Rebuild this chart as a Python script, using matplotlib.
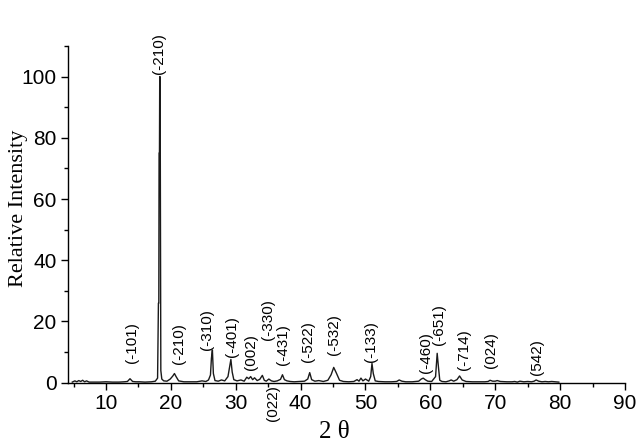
import matplotlib
matplotlib.use("Agg")
import matplotlib.pyplot as plt
from matplotlib.ticker import MultipleLocator

# ---- data ----
two_theta = [4.8, 5.2, 5.5, 5.8, 6.1, 6.4, 6.7, 7.0, 7.4, 8.0, 9.0, 10.0, 11.0, 12.0, 12.8,
             13.3, 13.7, 14.1, 14.6, 15.2, 16.0, 17.0, 17.6, 17.95, 18.08, 18.14, 18.18, 18.24,
             18.28, 18.34, 18.45,
             18.6, 18.9, 19.4, 19.9, 20.3, 20.55, 20.8, 21.2, 22.0, 23.0, 24.0, 24.8, 25.4,
             25.8, 26.1, 26.25, 26.4, 26.55, 26.8, 27.3, 27.8, 28.3, 28.8, 29.05, 29.25, 29.45,
             29.7, 30.2, 30.8, 31.3, 31.7, 32.0, 32.3, 32.6, 32.9, 33.3, 33.7, 34.1, 34.4,
             34.7, 35.1, 35.5, 35.9, 36.4, 36.9, 37.2, 37.5, 37.9, 38.4, 39.0, 39.8, 40.6,
             41.1, 41.4, 41.7, 42.2, 42.8, 43.5, 44.2, 44.7, 45.1, 45.5, 46.0, 46.6, 47.4,
             48.2, 48.7, 49.0, 49.3, 49.6, 50.0, 50.5, 50.8, 51.0, 51.2, 51.5, 52.0, 53.0,
             54.0, 54.8, 55.2, 55.6, 56.2, 57.2, 58.2, 58.6, 58.9, 59.2, 59.6, 60.2, 60.8,
             61.05, 61.25, 61.45, 61.8, 62.4, 62.9, 63.2, 63.6, 64.1, 64.5, 64.9, 65.5, 66.5,
             67.5, 68.4, 68.9, 69.2, 69.6, 70.0, 70.3, 70.8, 71.8, 72.6, 73.0, 73.4, 73.8,
             74.4, 75.0, 75.6, 76.0, 76.3, 76.7, 77.2, 77.7, 78.2, 78.7, 79.2, 79.8]
intensity = [0.2, 0.6, 0.3, 0.7, 0.4, 0.8, 0.3, 0.6, 0.2, 0.2, 0.2, 0.3, 0.2, 0.2, 0.3,
             0.4, 1.3, 0.4, 0.3, 0.3, 0.2, 0.3, 0.5, 1.5, 26.0, 26.0, 75.0, 75.0,
             100.0, 100.0, 4.0,
             1.2, 0.6, 0.5, 1.2, 2.2, 3.0, 2.0, 0.6, 0.3, 0.3, 0.3, 0.6, 0.4,
             0.9, 2.5, 8.0, 10.7, 3.0, 0.7, 0.5, 0.9, 0.6, 2.0, 5.0, 7.6, 3.5,
             1.0, 0.6, 0.9, 0.5, 1.8, 1.3, 2.0, 1.0, 1.6, 0.7, 1.1, 2.4, 0.8,
             0.5, 1.2, 0.6, 0.4, 0.6, 1.1, 2.6, 1.0, 0.6, 0.4, 0.3, 0.4, 0.5,
             1.2, 3.3, 1.0, 0.5, 0.7, 0.4, 0.8, 2.6, 5.0, 3.2, 0.8, 0.4, 0.3,
             0.4, 1.0, 0.5, 1.5, 0.6, 1.2, 0.5, 2.0, 6.3, 3.0, 0.6, 0.4, 0.3,
             0.3, 0.4, 0.9, 0.5, 0.3, 0.3, 0.5, 1.2, 1.5, 1.0, 0.5, 0.4, 2.0,
             9.6, 5.0, 0.8, 0.4, 0.3, 0.6, 0.9, 0.5, 1.0, 2.2, 0.9, 0.4, 0.3,
             0.3, 0.3, 0.4, 0.8, 0.5, 0.5, 0.7, 0.4, 0.3, 0.3, 0.4, 0.2, 0.5,
             0.3, 0.4, 0.3, 0.5, 0.9, 0.5, 0.3, 0.4, 0.3, 0.4, 0.3, 0.2]

labels = ["(-101)", "(-210)", "(-210)", "(-310)", "(-401)", "(002)", "(-330)", "(-431)",
          "(-522)", "(-532)", "(-133)", "(-460)", "(-651)", "(-714)", "(024)", "(542)"]
label_x = [14.0, 18.2, 21.2, 25.6, 29.4, 32.3, 35.0, 37.3,
           41.1, 45.1, 50.8, 59.3, 61.4, 65.2, 69.4, 76.5]
label_y = [6.4, 101.0, 6.1, 10.7, 8.4, 4.1, 13.9, 5.7,
           6.7, 9.0, 6.7, 3.2, 12.3, 4.1, 4.8, 2.5]
below_label = "(022)"
below_x = 35.8

x_ticks = [10, 20, 30, 40, 50, 60, 70, 80, 90]
y_ticks = [0, 20, 40, 60, 80, 100]

# ---- figure ----
fig = plt.figure(figsize=(6.42, 4.46), dpi=100)
ax = fig.add_axes([0.1055, 0.1419, 0.868, 0.755])

ax.plot(two_theta, intensity, color="#1a1a1a", lw=1.0)

ax.set_xlim(4.1, 90)
ax.set_ylim(0, 110)
ax.set_xticks(x_ticks)
ax.set_yticks(y_ticks)
ax.xaxis.set_minor_locator(MultipleLocator(5))
ax.yaxis.set_minor_locator(MultipleLocator(10))

for s in ("top", "right"):
    ax.spines[s].set_visible(False)
for s in ("left", "bottom"):
    ax.spines[s].set_linewidth(1.0)

ax.tick_params(which="major", direction="out", length=5, width=1.0,
               labelsize=15, pad=3)
ax.tick_params(which="minor", direction="out", length=3, width=1.0)
for lab in ax.get_xticklabels() + ax.get_yticklabels():
    lab.set_family("Liberation Sans")

ax.set_ylabel("Relative Intensity", family="Liberation Serif", fontsize=16)
ax.yaxis.set_label_coords(-0.071, 0.519)
ax.set_xlabel("2 θ", family="Liberation Serif", fontsize=18)
ax.xaxis.set_label_coords(0.478, -0.115)

for t, xx, yy in zip(labels, label_x, label_y):
    ax.text(xx, yy, t, rotation=90, ha="center", va="bottom",
            family="Liberation Sans", fontsize=11, clip_on=False)

ax.text(below_x, -0.8, below_label, rotation=90, ha="center", va="top",
        family="Liberation Sans", fontsize=11, clip_on=False)

fig.savefig("out.png", dpi=100)
